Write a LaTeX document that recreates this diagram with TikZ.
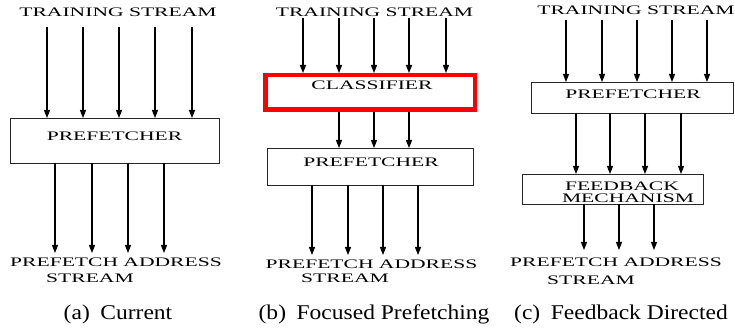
\documentclass[tikz,border=0pt]{standalone}
\usepackage{fontspec}
\setmainfont{Liberation Serif}
\usetikzlibrary{arrows.meta}
\newcommand\widetxt[1]{\scalebox{1.66}[1]{#1}}
\tikzset{
  lbl/.style={font=\fontsize{13}{13}\selectfont, inner sep=0pt, anchor=base},
  subcap/.style={font=\fontsize{21}{21}\selectfont, inner sep=0pt, anchor=base},
  blk/.style={draw=black!85, line width=0.9pt},
  redblk/.style={draw=red, line width=4.5pt},
  arr/.style={line width=1.1pt, -{Triangle[length=8pt,width=6pt]}},
}
\begin{document}
\begin{tikzpicture}[x=1pt,y=-1pt]
\useasboundingbox (0,0) rectangle (735,328);

% ---------- (a) Current ----------
\node[lbl] (aTS) at (118,16.5) {\widetxt{TRAINING STREAM}};
\draw[blk] (10,118) rectangle (219,163);
\coordinate (aPtop) at (0,118);
\coordinate (aPbot) at (0,163);
\node[lbl] (aP) at (114.5,141) {\widetxt{PREFETCHER}};
\foreach \x in {47,83,119,155,192}
  \draw[arr] (\x,27) -- (\x,0 |- aPtop);
\node[lbl] (aOut1) at (116,266) {\widetxt{PREFETCH ADDRESS}};
\node[lbl] (aOut2) at (90,282) {\widetxt{STREAM}};
\foreach \x in {55,92,128,164}
  \draw[arr] (\x,0 |- aPbot) -- (\x,253);
\node[subcap] (aCap) at (118,319) {\scalebox{1.12}[1]{(a)\hspace{0.45em}Current}};

% ---------- (b) Focused Prefetching ----------
\node[lbl] (bTS) at (374.5,16.5) {\widetxt{TRAINING STREAM}};
\draw[redblk] (265.25,75.25) rectangle (474.75,109.75);
\coordinate (bCtop) at (0,73);
\coordinate (bCbot) at (0,112);
\node[lbl] (bC) at (372,90) {\widetxt{CLASSIFIER}};
\foreach \x in {303,339,374,409,446}
  \draw[arr] (\x,18) -- (\x,0 |- bCtop);
\draw[blk] (267,148) rectangle (473,185);
\coordinate (bPtop) at (0,148);
\coordinate (bPbot) at (0,185);
\node[lbl] (bP) at (371,167) {\widetxt{PREFETCHER}};
\foreach \x in {339,374,409}
  \draw[arr] (\x,0 |- bCbot) -- (\x,0 |- bPtop);
\node[lbl] (bOut1) at (371.5,269) {\widetxt{PREFETCH ADDRESS}};
\node[lbl] (bOut2) at (345,282) {\widetxt{STREAM}};
\foreach \x in {312,348,383,418}
  \draw[arr] (\x,0 |- bPbot) -- (\x,255);
\node[subcap] (bCap) at (374,319) {\scalebox{1.12}[1]{(b)\hspace{0.45em}Focused Prefetching}};

% ---------- (c) Feedback Directed ----------
\node[lbl] (cTS) at (636,14.5) {\widetxt{TRAINING STREAM}};
\draw[blk] (531,82) rectangle (733,113);
\coordinate (cPtop) at (0,82);
\coordinate (cPbot) at (0,113);
\node[lbl] (cP) at (633,99) {\widetxt{PREFETCHER}};
\foreach \x in {566,602,637,672,707}
  \draw[arr] (\x,20) -- (\x,0 |- cPtop);
\draw[blk] (522,174) rectangle (703,204);
\coordinate (cFtop) at (0,174);
\coordinate (cFbot) at (0,204);
\node[lbl] (cF1) at (622,191) {\widetxt{FEEDBACK}};
\node[lbl] (cF2) at (628,203) {\widetxt{MECHANISM}};
\foreach \x in {576,610,645,681}
  \draw[arr] (\x,0 |- cPbot) -- (\x,0 |- cFtop);
\node[lbl] (cOut1) at (616,266) {\widetxt{PREFETCH ADDRESS}};
\node[lbl] (cOut2) at (591,284) {\widetxt{STREAM}};
\foreach \x in {584,619,654}
  \draw[arr] (\x,0 |- cFbot) -- (\x,250);
\node[subcap] (cCap) at (621,319) {\scalebox{1.12}[1]{(c)\hspace{0.45em}Feedback Directed}};
\end{tikzpicture}
\end{document}
